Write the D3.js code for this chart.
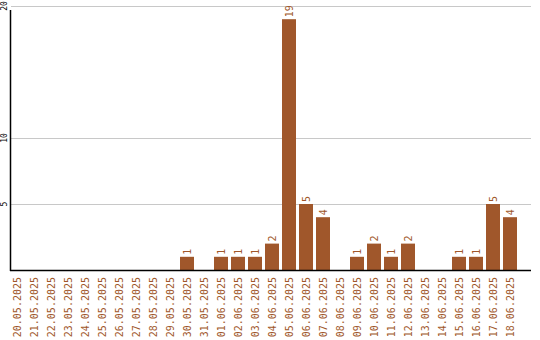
<!DOCTYPE html>
<html>
<head>
<meta charset="utf-8">
<script src="https://cdn.jsdelivr.net/npm/d3@7"></script>
<style>
body { margin: 0; background: #fff; }
svg { display: block; }
text { font-family: "DejaVu Sans Mono", "Liberation Mono", monospace; }
</style>
</head>
<body>
<svg width="540" height="340"></svg>
<script>
var days = ["20.05.2025","21.05.2025","22.05.2025","23.05.2025","24.05.2025","25.05.2025",
  "26.05.2025","27.05.2025","28.05.2025","29.05.2025","30.05.2025","31.05.2025",
  "01.06.2025","02.06.2025","03.06.2025","04.06.2025","05.06.2025","06.06.2025",
  "07.06.2025","08.06.2025","09.06.2025","10.06.2025","11.06.2025","12.06.2025",
  "13.06.2025","14.06.2025","15.06.2025","16.06.2025","17.06.2025","18.06.2025"]
var counts = [0,0,0,0,0,0,0,0,0,0,1,0,1,1,1,2,19,5,4,0,1,2,1,2,0,0,1,1,5,4]
var yTicks = [5, 10, 20]

var svg = d3.select("svg")
var color = "#a0572b"

var x = d3.scaleBand()
  .domain(days)
  .range([8.5, 518.5])
  .paddingInner(3/17)
  .paddingOuter(1.5/17)

var y = d3.scaleLinear()
  .domain([0, 20])
  .range([270, 6])

// grid
svg.append("g")
  .selectAll("line")
  .data(yTicks)
  .join("line")
  .attr("x1", 11)
  .attr("x2", 531)
  .attr("y1", d => Math.round(y(d)) + 0.5)
  .attr("y2", d => Math.round(y(d)) + 0.5)
  .attr("stroke", "#c8c8c8")
  .attr("stroke-width", 1)

svg.append("g")
  .selectAll("text")
  .data(yTicks)
  .join("text")
  .attr("transform", d => "translate(7," + y(d) + ") rotate(-90)")
  .attr("text-anchor", "middle")
  .attr("font-size", "8px")
  .attr("fill", "#000")
  .text(d => d)

// bars
var data = days.map((d, i) => ({day: d, value: counts[i]}))

svg.append("g")
  .selectAll("rect")
  .data(data.filter(d => d.value > 0))
  .join("rect")
  .attr("x", d => x(d.day))
  .attr("width", x.bandwidth())
  .attr("y", d => y(d.value))
  .attr("height", d => y(0) - y(d.value))
  .attr("fill", color)

svg.append("g")
  .selectAll("text")
  .data(data.filter(d => d.value > 0))
  .join("text")
  .attr("transform", d => "translate(" + (x(d.day) + x.bandwidth() / 2) + "," + (y(d.value) - 2) + ") rotate(-90)")
  .attr("dy", "0.35em")
  .attr("font-size", "10px")
  .attr("fill", color)
  .text(d => d.value)

// axes lines
svg.append("line")
  .attr("x1", 10.5).attr("x2", 10.5)
  .attr("y1", 10).attr("y2", 271)
  .attr("stroke", "#000")
  .attr("stroke-width", 1.5)

svg.append("line")
  .attr("x1", 10).attr("x2", 531)
  .attr("y1", 270.5).attr("y2", 270.5)
  .attr("stroke", "#000")
  .attr("stroke-width", 1.5)

// day labels
svg.append("g")
  .selectAll("text")
  .data(days)
  .join("text")
  .attr("transform", d => "translate(" + (x(d) + x.bandwidth() / 2) + ",277) rotate(-90)")
  .attr("text-anchor", "end")
  .attr("dy", "0.35em")
  .attr("font-size", "10px")
  .attr("fill", color)
  .text(d => d)
</script>
</body>
</html>
